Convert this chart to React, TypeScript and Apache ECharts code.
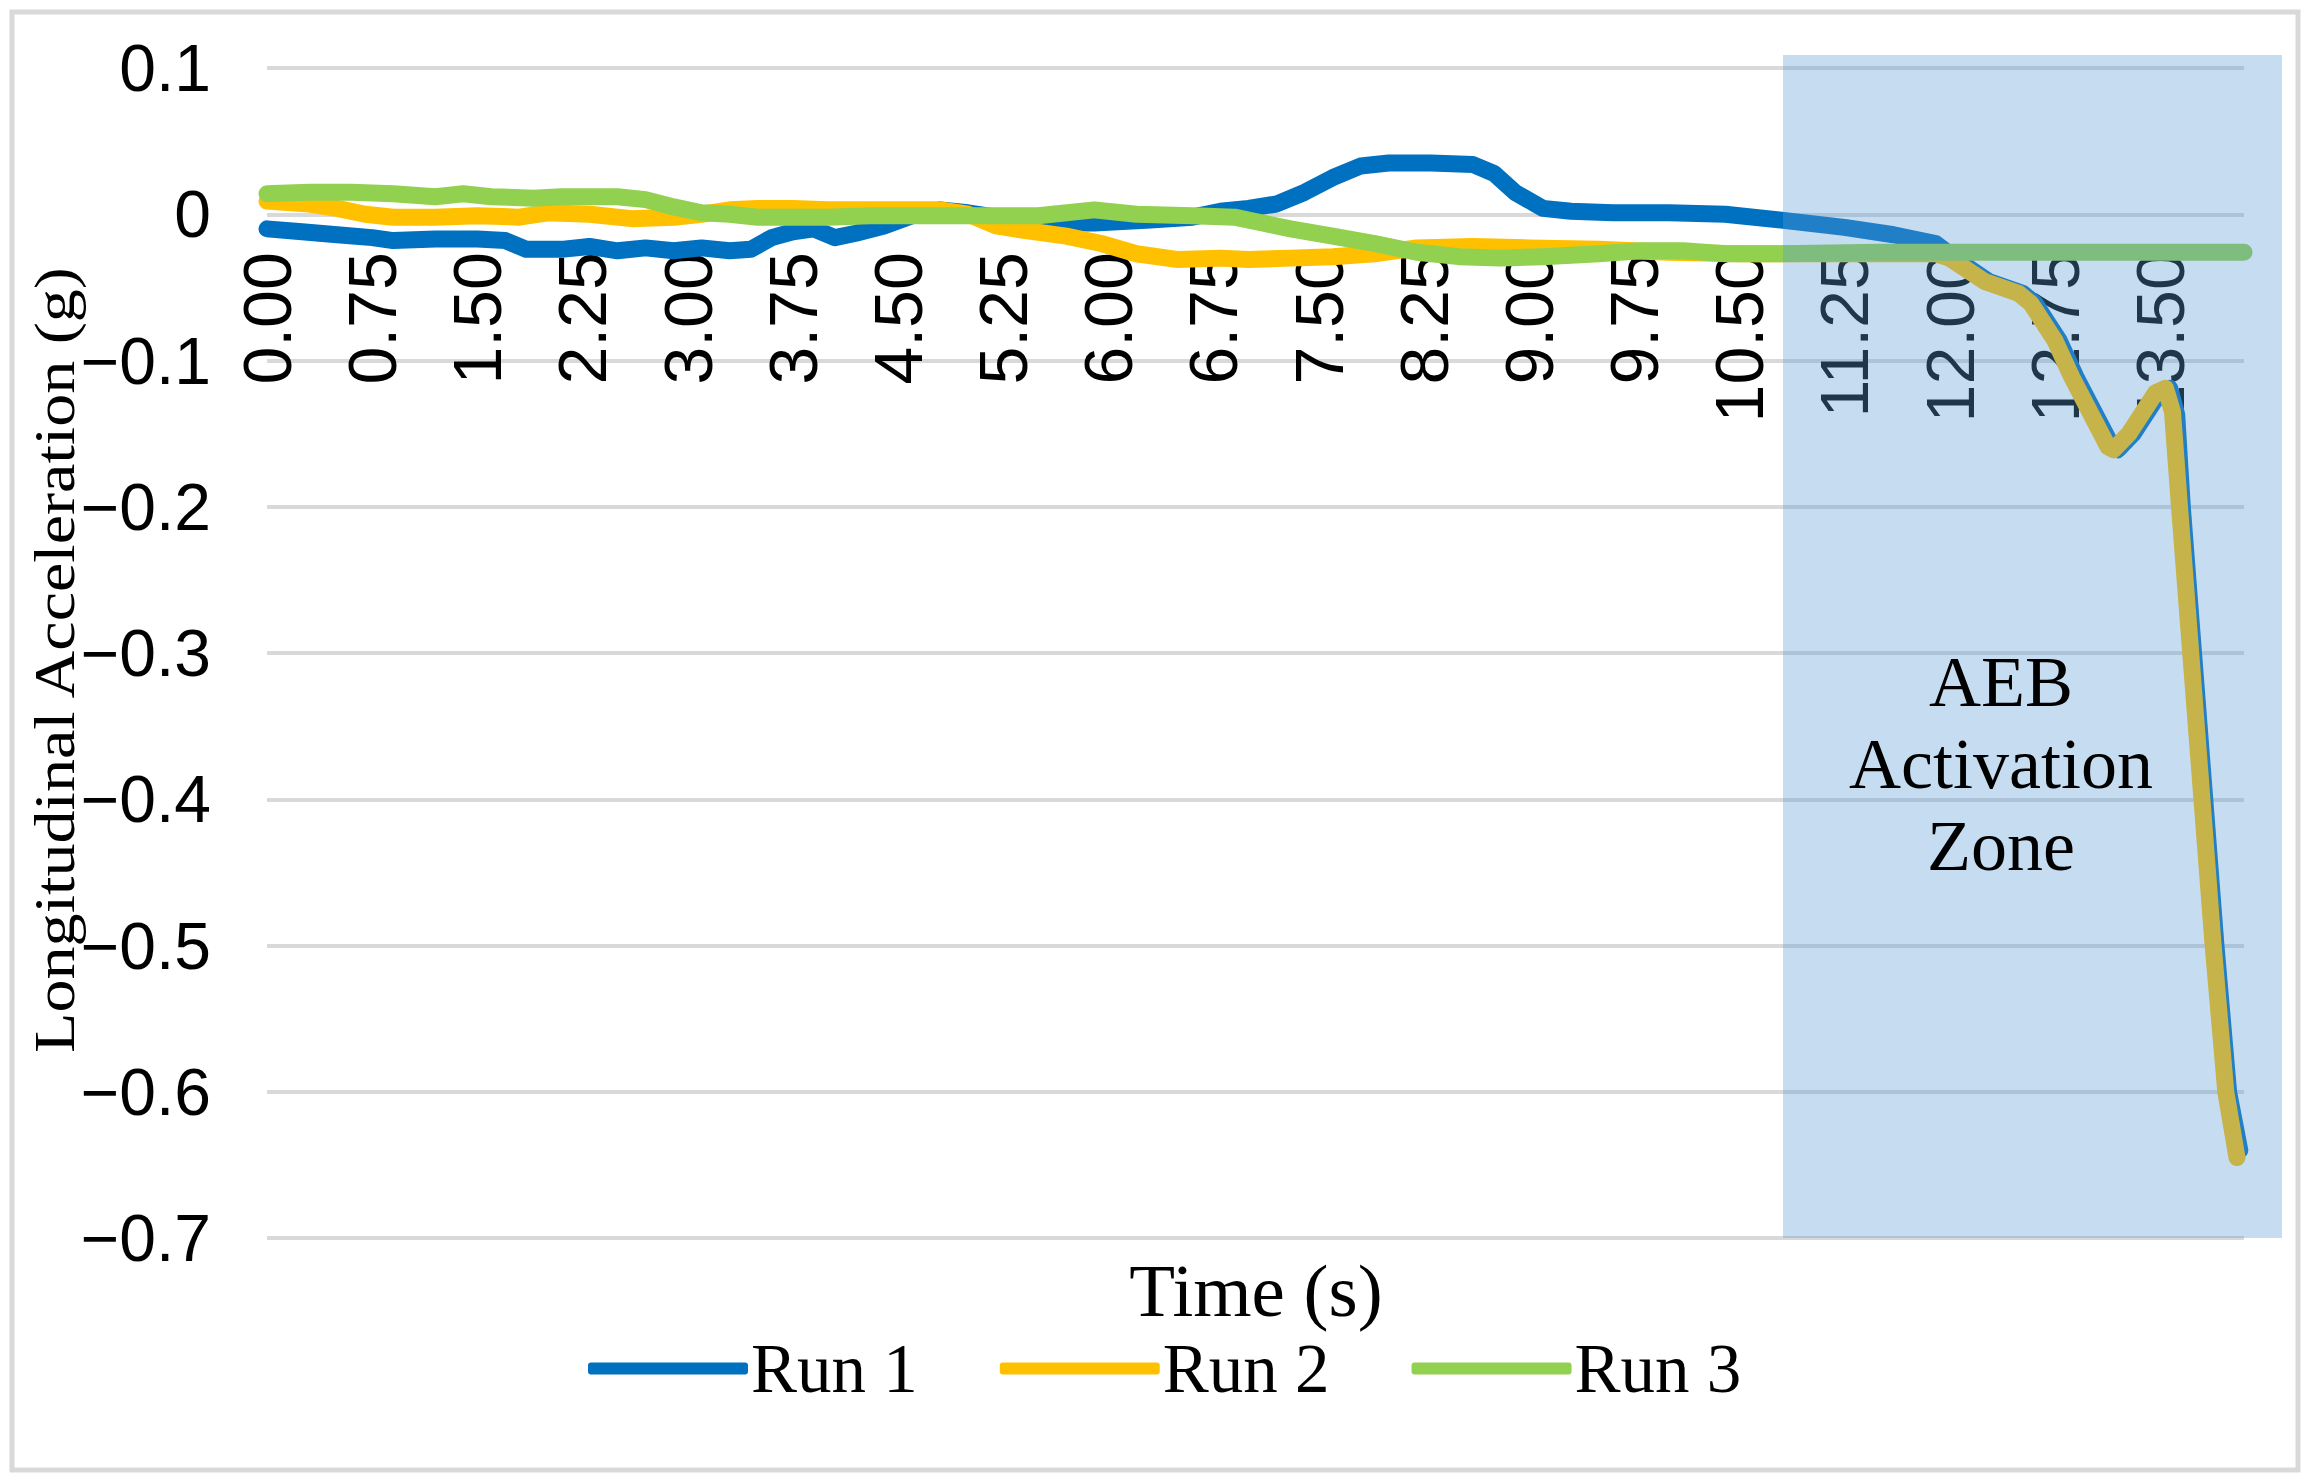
import React, { useEffect, useRef } from "react";
import * as echarts from "echarts";

const SERIES_NAMES = ["Run 1", "Run 2", "Run 3"];
const SERIES_COLORS = ["#0070C0", "#FFC000", "#92D050"];

const run1Time = [0.0, 0.25, 0.5, 0.75, 0.9, 1.2, 1.5, 1.7, 1.85, 2.1, 2.3, 2.5, 2.7, 2.9, 3.1, 3.3, 3.45, 3.6, 3.75, 3.9, 4.05, 4.2, 4.4, 4.6, 4.8, 5.0, 5.2, 5.5, 5.9, 6.3, 6.6, 6.8, 7.0, 7.2, 7.4, 7.6, 7.8, 8.0, 8.3, 8.6, 8.75, 8.9, 9.1, 9.3, 9.6, 10.0, 10.4, 10.8, 11.25, 11.6, 11.9, 12.05, 12.28, 12.52, 12.61, 12.78, 12.9, 13.16, 13.2, 13.31, 13.5, 13.57, 13.62, 13.66, 13.74, 13.82, 13.9, 13.99, 14.07];
const run1Value = [-0.01, -0.012, -0.014, -0.016, -0.018, -0.017, -0.017, -0.018, -0.024, -0.024, -0.022, -0.025, -0.023, -0.025, -0.023, -0.025, -0.024, -0.016, -0.012, -0.01, -0.016, -0.013, -0.008, -0.001, 0.003, 0.001, -0.002, -0.006, -0.006, -0.004, -0.002, 0.002, 0.004, 0.007, 0.015, 0.025, 0.033, 0.035, 0.035, 0.034, 0.028, 0.015, 0.004, 0.002, 0.001, 0.001, 0.0, -0.004, -0.009, -0.014, -0.02, -0.031, -0.046, -0.054, -0.061, -0.086, -0.111, -0.159, -0.161, -0.15, -0.122, -0.119, -0.137, -0.2, -0.3, -0.4, -0.5, -0.6, -0.64];

const run2Time = [0.0, 0.3, 0.5, 0.7, 0.9, 1.2, 1.5, 1.8, 2.0, 2.3, 2.6, 2.9, 3.1, 3.3, 3.5, 3.75, 4.0, 4.5, 4.8, 5.0, 5.2, 5.4, 5.7, 5.95, 6.2, 6.5, 6.8, 7.0, 7.3, 7.6, 7.9, 8.2, 8.6, 9.0, 9.5, 10.0, 10.5, 11.0, 11.5, 11.9, 12.0, 12.25, 12.49, 12.58, 12.75, 12.87, 13.13, 13.17, 13.28, 13.47, 13.54, 13.59, 13.64, 13.72, 13.8, 13.88, 13.97, 14.05];
const run2Value = [0.009, 0.007, 0.004, 0.0, -0.002, -0.002, -0.001, -0.002, 0.001, 0.0, -0.003, -0.002, 0.0, 0.003, 0.004, 0.004, 0.003, 0.003, 0.003, 0.0, -0.008, -0.011, -0.015, -0.02, -0.027, -0.031, -0.03, -0.031, -0.03, -0.029, -0.027, -0.023, -0.022, -0.023, -0.024, -0.026, -0.027, -0.027, -0.027, -0.027, -0.03, -0.046, -0.054, -0.061, -0.086, -0.111, -0.159, -0.161, -0.15, -0.122, -0.119, -0.135, -0.2, -0.3, -0.4, -0.5, -0.6, -0.645];

const run3Time = [0.0, 0.3, 0.6, 0.9, 1.2, 1.4, 1.6, 1.9, 2.1, 2.5, 2.7, 2.9, 3.1, 3.3, 3.5, 3.75, 4.0, 4.3, 4.6, 5.0, 5.5, 5.9, 6.2, 6.6, 6.9, 7.1, 7.3, 7.6, 7.9, 8.2, 8.5, 8.8, 9.1, 9.5, 9.8, 10.1, 10.4, 10.8, 11.5, 12.5, 13.5, 14.1];
const run3Value = [0.014, 0.015, 0.015, 0.014, 0.012, 0.014, 0.012, 0.011, 0.012, 0.012, 0.01, 0.005, 0.001, 0.0, -0.002, -0.002, -0.002, -0.001, -0.001, -0.001, -0.001, 0.003, 0.0, -0.001, -0.002, -0.006, -0.01, -0.015, -0.02, -0.026, -0.029, -0.03, -0.029, -0.027, -0.025, -0.025, -0.027, -0.027, -0.026, -0.026, -0.026, -0.026];

const X_MIN = 0;
const X_MAX = 14.1;
const X_INTERVAL = 0.75;
const Y_MIN = -0.7;
const Y_MAX = 0.1;
const Y_INTERVAL = 0.1;

const Y_TITLE = "Longitudinal Acceleration (g)";
const X_TITLE = "Time (s)";
const ZONE_TEXT = "AEB\nActivation\nZone";

function zip(ts: number[], vs: number[]) {
  return ts.map((t, i) => [t, vs[i]]);
}

export default function App() {
  const ref = useRef<HTMLDivElement>(null);
  useEffect(() => {
    if (!ref.current) return;
    const chart = echarts.init(ref.current, null, { renderer: "svg" });
    const runs = [zip(run1Time, run1Value), zip(run2Time, run2Value), zip(run3Time, run3Value)];
    const sans = "'Liberation Sans', Arial, sans-serif";
    const serif = "'Liberation Serif', 'Times New Roman', serif";
    const gridTop = 68;
    const gridBottomPx = 1238;
    const zeroPx = gridTop + ((Y_MAX - 0) / (Y_MAX - Y_MIN)) * (gridBottomPx - gridTop);
    chart.setOption({
      animation: false,
      backgroundColor: "#ffffff",
      grid: [
        { left: 267, right: 72, top: gridTop, bottom: 1483 - gridBottomPx, containLabel: false },
        { left: 267, right: 72, top: gridTop, bottom: 1483 - zeroPx, containLabel: false },
      ],
      xAxis: [
        {
          type: "value",
          gridIndex: 0,
          min: X_MIN,
          max: X_MAX,
          interval: X_INTERVAL,
          axisLine: { show: false },
          axisTick: { show: false },
          splitLine: { show: false },
          axisLabel: { show: false },
        },
        {
          type: "value",
          gridIndex: 1,
          min: X_MIN,
          max: X_MAX,
          interval: X_INTERVAL,
          axisLine: { show: false },
          axisTick: { show: false },
          splitLine: { show: false },
          axisLabel: {
            rotate: 90,
            margin: 38,
            fontSize: 68,
            fontFamily: sans,
            color: "#000000",
            showMaxLabel: true,
            showMinLabel: true,
            formatter: (v: number) => {
              const k = Math.round(v / X_INTERVAL);
              if (Math.abs(k * X_INTERVAL - v) > 1e-6) return "";
              return v.toFixed(2);
            },
          },
        },
      ],
      yAxis: [
        {
          type: "value",
          gridIndex: 0,
          min: Y_MIN,
          max: Y_MAX,
          interval: Y_INTERVAL,
          axisLine: { show: false },
          axisTick: { show: false },
          splitLine: { show: true, lineStyle: { color: "#D9D9D9", width: 4 } },
          axisLabel: {
            margin: 56,
            fontSize: 66,
            fontFamily: sans,
            color: "#000000",
            formatter: (v: number) => {
              const r = Math.round(v * 10) / 10;
              if (r === 0) return "0";
              return r < 0 ? "\u2212" + Math.abs(r).toFixed(1) : r.toFixed(1);
            },
          },
        },
        {
          type: "value",
          gridIndex: 1,
          min: 0,
          max: 1,
          show: false,
        },
      ],
      legend: {
        show: true,
        left: 583,
        top: 1329,
        itemWidth: 160,
        itemHeight: 12,
        itemGap: 82,
        icon: "roundRect",
        textStyle: { fontSize: 69, fontFamily: serif, color: "#000000", padding: [0, 0, 0, -2] },
        data: SERIES_NAMES,
      },
      series: runs.map((d, i) => ({
        name: SERIES_NAMES[i],
        type: "line",
        xAxisIndex: 0,
        yAxisIndex: 0,
        data: d,
        showSymbol: false,
        symbol: "none",
        z: 2 + i,
        lineStyle: { color: SERIES_COLORS[i], width: 17, cap: "round", join: "round" },
        itemStyle: { color: SERIES_COLORS[i] },
      })),
      graphic: [
        {
          type: "rect",
          z: 100,
          silent: true,
          shape: { x: 1783, y: 55, width: 499, height: 1183 },
          style: { fill: "rgba(91,155,213,0.35)" },
        },
        {
          type: "text",
          z: 101,
          x: 2001,
          y: 764,
          style: {
            text: ZONE_TEXT,
            fontSize: 72,
            lineHeight: 82,
            fontFamily: serif,
            fill: "#000000",
            align: "center",
            verticalAlign: "middle",
          },
        },
        {
          type: "text",
          z: 101,
          x: 1256,
          y: 1290,
          style: {
            text: X_TITLE,
            fontSize: 75,
            fontFamily: serif,
            fill: "#000000",
            align: "center",
            verticalAlign: "middle",
          },
        },
        {
          type: "text",
          z: 101,
          x: 54,
          y: 660,
          rotation: Math.PI / 2,
          scaleX: 1.14,
          style: {
            text: Y_TITLE,
            fontSize: 58,
            fontFamily: serif,
            fill: "#000000",
            align: "center",
            verticalAlign: "middle",
          },
        },
        {
          type: "rect",
          z: 102,
          silent: true,
          shape: { x: 12, y: 12, width: 2286, height: 1458 },
          style: { fill: "none", stroke: "#D9D9D9", lineWidth: 5 },
        },
      ],
    });
    return () => chart.dispose();
  }, []);
  return (
    <div
      ref={ref}
      style={{ position: "absolute", left: 0, top: 0, width: 2316, height: 1483 }}
    />
  );
}
